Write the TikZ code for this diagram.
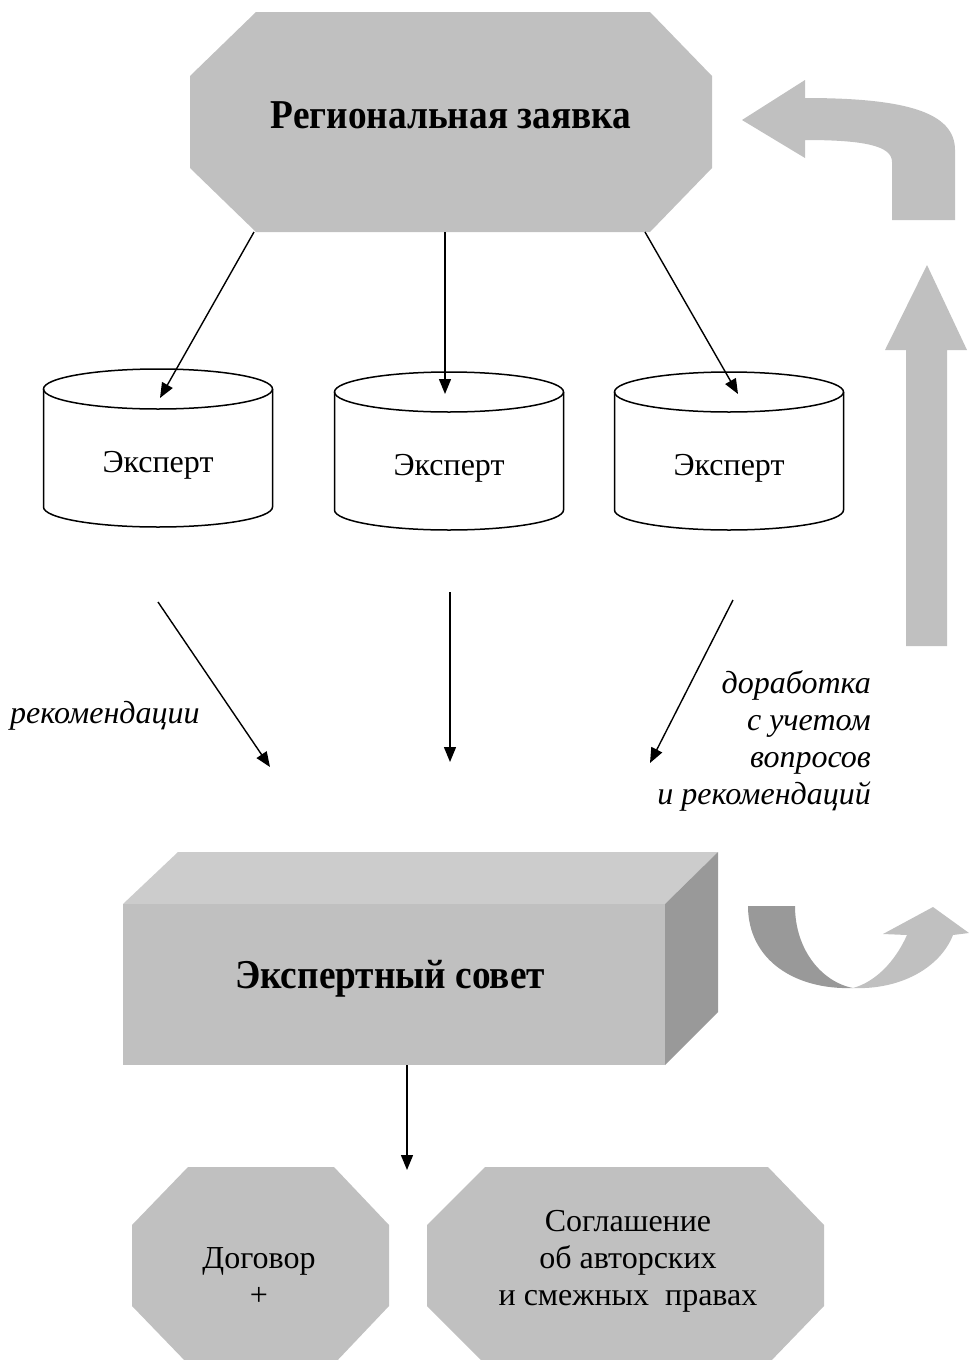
\documentclass[tikz,border=0pt]{standalone}
\usepackage{fontspec}
\setmainfont{Liberation Serif}
\newfontfamily\condserif[FakeStretch=0.91]{Liberation Serif}
\usetikzlibrary{arrows.meta}
\definecolor{gface}{HTML}{C0C0C0}
\definecolor{gtop}{HTML}{CCCCCC}
\definecolor{gside}{HTML}{999999}
\newcommand\drawcyl[3]{%
  \draw[cylline] (#1-114.5,#2) -- (#1-114.5,#3)
    arc[start angle=180,end angle=360,x radius=114.5pt,y radius=20pt]
    -- (#1+114.5,#2);
  \draw[cylline] (#1,#2) ellipse[x radius=114.5pt,y radius=20pt];}
\begin{document}
\begin{tikzpicture}[x=1pt,y=-1pt,
  conn/.style={line width=1.4pt,-{Triangle[length=15pt,width=12pt]}},
  cylline/.style={line width=1.5pt},
  reg/.style={font=\fontsize{32}{37}\selectfont,inner sep=0pt},
  ital/.style={font=\fontsize{32}{37}\selectfont\itshape,inner sep=0pt},
  bold/.style={font=\condserif\fontsize{41}{48}\selectfont\bfseries,inner sep=0pt},
  bigarrow/.style={fill=gface}]
\useasboundingbox (0,0) rectangle (969,1360);

% top octagon
\fill[gface] (256,12) -- (650,12) -- (712,76) -- (712,168) -- (650,232)
  -- (256,232) -- (190,168) -- (190,76) -- cycle;
\node[bold,anchor=base] (regapp) at (451,128) {Региональная заявка};
\coordinate (rsw) at (254,232);
\coordinate (rs) at (445,232);
\coordinate (rse) at (645,232);

% cylinders
\drawcyl{158}{389}{507}
\drawcyl{449}{392}{510}
\drawcyl{729}{392}{510}
\node[reg,anchor=base] (exp1) at (158,472) {Эксперт};
\node[reg,anchor=base] (exp2) at (449,475) {Эксперт};
\node[reg,anchor=base] (exp3) at (729,475) {Эксперт};
\coordinate (e1in) at (160,398);
\coordinate (e2in) at (445,394);
\coordinate (e3in) at (738,394);

\draw[conn] (rsw) -- (e1in);
\draw[conn] (rs) -- (e2in);
\draw[conn] (rse) -- (e3in);

% arrows towards council
\coordinate (a1s) at (158,602);
\coordinate (a1e) at (270,767);
\coordinate (a2s) at (450,592);
\coordinate (a2e) at (450,762);
\coordinate (a3s) at (733,600);
\coordinate (a3e) at (650,763);
\draw[conn] (a1s) -- (a1e);
\draw[conn] (a2s) -- (a2e);
\draw[conn] (a3s) -- (a3e);

\node[ital,anchor=base west] (recom) at (10,723) {рекомендации};
\node[ital,anchor=base east] (rev1) at (871,693) {доработка};
\node[ital,anchor=base east] (rev2) at (871,730) {с учетом};
\node[ital,anchor=base east] (rev3) at (871,767) {вопросов};
\node[ital,anchor=base east] (rev4) at (871,804) {и рекомендаций};

% council box
\fill[gtop] (123,904) -- (178,852) -- (718,852) -- (665,904) -- cycle;
\fill[gside] (665,904) -- (718,852) -- (718,1012) -- (665,1065) -- cycle;
\node[fill=gface,minimum width=542pt,minimum height=161pt,inner sep=0pt] (council) at (394,984.5) {};
\node[bold,anchor=base] (counciltxt) at (390,988) {Экспертный совет};

% curved arrow near the box
\fill[gside] (748,906) -- (795,906) .. controls (795,950) and (822,982) .. (853,988)
  .. controls (795,990) and (748,960) .. (748,906) -- cycle;
\fill[gface] (853,988) .. controls (900,990) and (940,968) .. (953,935)
  -- (969,933) -- (933,907) -- (883,934) -- (907,935)
  .. controls (895,962) and (875,982) .. (853,988) -- cycle;

% big grey arrows at right
\fill[gface] (742,120) -- (805,80) -- (805,98)
  .. controls (905,98) and (955,112) .. (955,150) -- (955,220) -- (892,220) -- (892,162)
  .. controls (892,146) and (865,140) .. (805,140) -- (805,158) -- cycle;
\fill[gface] (906,646) -- (906,350) -- (885,350) -- (927,265) -- (967,350)
  -- (947,350) -- (947,646) -- cycle;

% arrow to results
\coordinate (cb) at (407,1065);
\coordinate (resin) at (407,1170);
\draw[conn] (cb) -- (resin);

% bottom octagons
\fill[gface] (188,1167) -- (334,1167) -- (389,1225) -- (389,1306) -- (334,1364)
  -- (188,1364) -- (132,1306) -- (132,1225) -- cycle;
\fill[gface] (485,1167) -- (768,1167) -- (824,1225) -- (824,1306) -- (768,1364)
  -- (485,1364) -- (427,1306) -- (427,1225) -- cycle;
\node[reg,anchor=base] (contract) at (259,1268) {Договор};
\node[reg,anchor=base] (plus) at (259,1305) {+};
\node[reg,anchor=base] (agr1) at (628,1231) {Соглашение};
\node[reg,anchor=base] (agr2) at (628,1268) {об авторских};
\node[reg,anchor=base] (agr3) at (628,1305) {и смежных\ \ правах};
\end{tikzpicture}
\end{document}
